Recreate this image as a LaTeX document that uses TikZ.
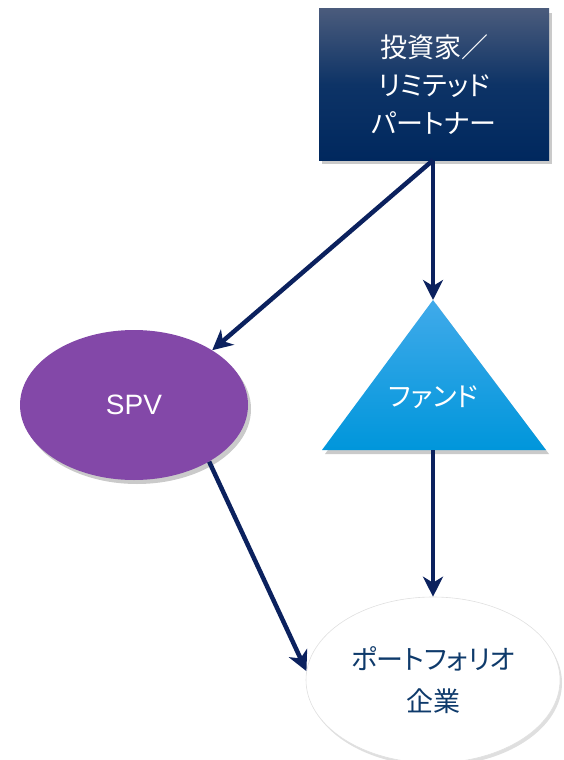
\documentclass[tikz,border=0pt]{standalone}
\usepackage{fontspec}
\setmainfont{Liberation Sans}
\newfontfamily\jpfont[RawFeature=+palt]{Noto Sans CJK JP}
\usetikzlibrary{arrows.meta,shapes.geometric,shadows,shadings}
\definecolor{navy}{HTML}{0B215E}
\definecolor{boxtop}{HTML}{4A5B7C}
\definecolor{boxbot}{HTML}{00285E}
\definecolor{boxmid}{HTML}{0D3366}
\definecolor{fundtop}{HTML}{40AAEA}
\definecolor{fundbot}{HTML}{0096DB}
\definecolor{spvcol}{HTML}{8348A8}
\definecolor{porttext}{HTML}{0E3A6B}
\tikzset{
  flow/.style={draw=navy, line width=4.5pt, -{Stealth[length=20pt,width=20pt,inset=6pt]}},
  softshadow/.style={drop shadow={shadow xshift=3pt, shadow yshift=-4pt, opacity=0.35, fill=black!60}},
}
\begin{document}
\begin{tikzpicture}[x=1pt,y=-1pt]
\useasboundingbox (0,0) rectangle (563,760);
% investor box
\node[softshadow, minimum width=230pt, minimum height=151pt, inner sep=0pt,
  top color=boxtop, bottom color=boxbot, middle color=boxmid,
  text=white, align=center, font=\jpfont\fontsize{27}{38}\selectfont]
  (inv) at (434,84.5) {投資家／\\リミテッド\\パートナー};
% SPV
\node[ellipse, softshadow, fill=spvcol, minimum width=228pt, minimum height=150pt, inner sep=0pt,
  text=white, font=\fontsize{28}{32}\selectfont] (spv) at (134,405) {SPV};
% fund triangle
\coordinate (fapex) at (433,300);
\coordinate (fleft) at (322,450);
\coordinate (fright) at (546,450);
\coordinate (fbase) at (433,450);
\shade[softshadow, top color=fundtop, bottom color=fundbot] (fapex) -- (fright) -- (fleft) -- cycle;
\node[text=white, font=\jpfont\fontsize{27}{30}\selectfont] (fund) at (433,397) {ファンド};
% portfolio
\node[ellipse, draw=black!12, line width=0.6pt, fill=white,
  drop shadow={shadow xshift=2pt, shadow yshift=-3pt, opacity=0.25, fill=black!50},
  minimum width=254pt, minimum height=166pt, inner sep=0pt,
  text=porttext, align=center, font=\jpfont\fontsize{27}{42}\selectfont]
  (port) at (433,680) {ポートフォリオ\\企業};
% connectors
\draw[flow] (inv.south) ++(-1,0) coordinate (invout) -- (spv.35);
\draw[flow] (invout) -- (fapex);
\draw[flow] (fbase) -- (port.north);
\draw[flow] (spv.-37) -- (port.176);
\end{tikzpicture}
\end{document}
